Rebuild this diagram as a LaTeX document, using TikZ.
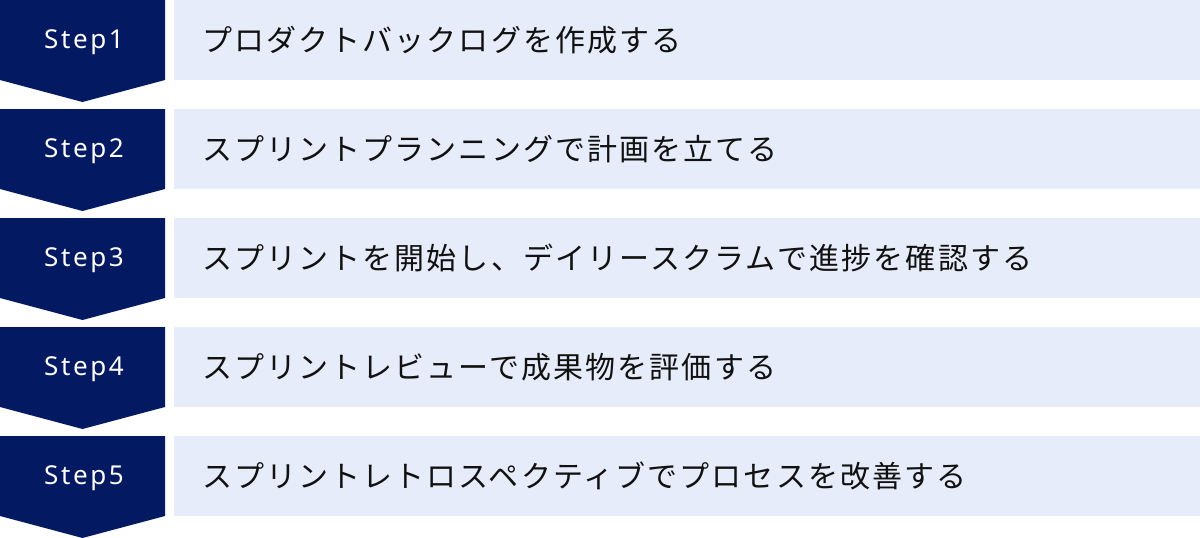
\documentclass[tikz,border=0pt]{standalone}
\usepackage{fontspec}
\setmainfont{Noto Sans}
\newfontfamily\jpfont[LetterSpace=7]{Noto Sans CJK JP}
\newfontfamily\stepfont[LetterSpace=10]{Noto Sans}
\definecolor{stepnavy}{RGB}{3,25,98}
\definecolor{rowblue}{RGB}{230,236,249}
\definecolor{rowink}{RGB}{17,17,17}

\tikzset{
  steplabel/.style={text=white, font=\stepfont\fontsize{26}{30}\selectfont, anchor=base, inner sep=0pt},
  rowtext/.style={text=rowink, font=\jpfont\fontsize{30}{36}\selectfont, anchor=base west, inner sep=0pt}
}

\begin{document}
\begin{tikzpicture}[x=1pt,y=-1pt]
    \useasboundingbox (0,0) rectangle (1200,538);

    \foreach \i/\txt in {1/プロダクトバックログを作成する,
                         2/スプリントプランニングで計画を立てる,
                         3/スプリントを開始し、デイリースクラムで進捗を確認する,
                         4/スプリントレビューで成果物を評価する,
                         5/スプリントレトロスペクティブでプロセスを改善する}
    {
      \pgfmathsetmacro\rowtop{(\i-1)*109}
      \fill[stepnavy] (0,\rowtop) -- (165,\rowtop) -- (165,\rowtop+80)
           -- (82.5,\rowtop+102) -- (0,\rowtop+80) -- cycle;
      \fill[rowblue] (174,\rowtop) rectangle (1200,\rowtop+80);
      \node[steplabel] (step\i) at (84,\rowtop+48.5) {Step\i};
      \node[rowtext] (task\i) at (202,\rowtop+51) {\txt};
    };

\end{tikzpicture}
\end{document}
